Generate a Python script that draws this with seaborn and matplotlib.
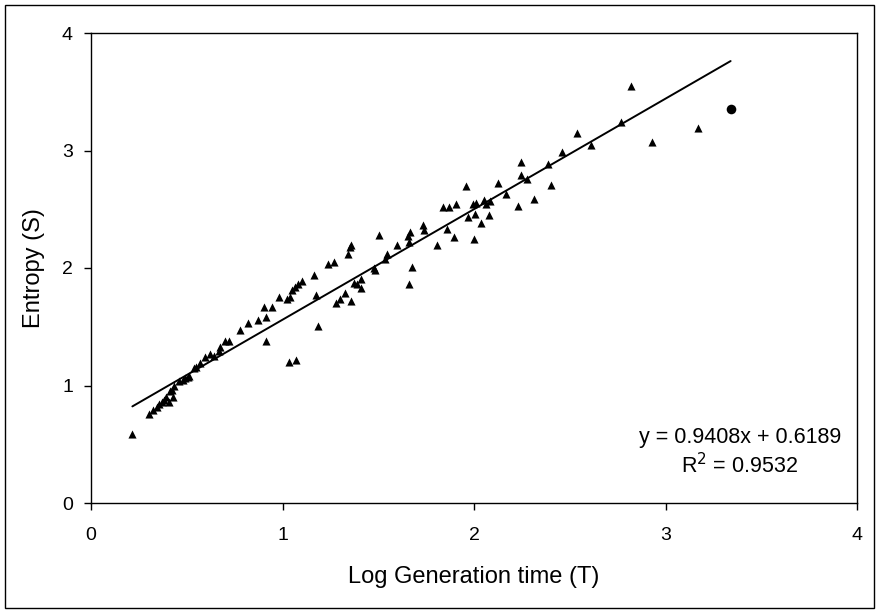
import matplotlib
matplotlib.use("Agg")
import matplotlib.pyplot as plt
import seaborn as sns
import pandas as pd
import numpy as np
from matplotlib.patches import Rectangle

# values
log_gen_time = [0.216, 0.305, 0.326, 0.344, 0.353, 0.37, 0.382, 0.393, 0.405, 0.414,
                0.428, 0.422, 0.435, 0.462, 0.48, 0.492, 0.504, 0.511, 0.536, 0.55,
                0.567, 0.597, 0.623, 0.644, 0.667, 0.675, 0.70, 0.719, 0.777, 0.819,
                0.871, 0.913, 0.913, 0.902, 0.944, 0.981, 1.021, 1.038, 1.033, 1.068,
                1.05, 1.063, 1.08, 1.103, 1.164, 1.174, 1.185, 1.237, 1.269, 1.277,
                1.30, 1.326, 1.356, 1.342, 1.352, 1.36, 1.373, 1.391, 1.408, 1.412,
                1.478, 1.482, 1.504, 1.534, 1.545, 1.597, 1.656, 1.667, 1.661, 1.674,
                1.661, 1.736, 1.74, 1.806, 1.836, 1.871, 1.859, 1.893, 1.906, 1.958,
                1.97, 1.993, 2.01, 2.005, 2.0, 2.037, 2.051, 2.063, 2.08, 2.086,
                2.124, 2.168, 2.232, 2.243, 2.246, 2.277, 2.312, 2.389, 2.40, 2.462,
                2.536, 2.609, 2.766, 2.822, 2.927, 3.168]
entropy = [0.59, 0.76, 0.79, 0.82, 0.84, 0.86, 0.88, 0.90, 0.86, 0.95,
           0.90, 0.96, 1.0, 1.04, 1.05, 1.06, 1.07, 1.08, 1.15, 1.155,
           1.19, 1.24, 1.27, 1.25, 1.29, 1.325, 1.38, 1.38, 1.47, 1.53,
           1.56, 1.38, 1.585, 1.665, 1.665, 1.75, 1.74, 1.755, 1.20, 1.22,
           1.81, 1.84, 1.865, 1.89, 1.94, 1.77, 1.506, 2.034, 2.05, 1.705,
           1.74, 1.79, 1.72, 2.115, 2.175, 2.20, 1.875, 1.86, 1.91, 1.83,
           2.0, 1.98, 2.28, 2.08, 2.12, 2.195, 2.27, 2.31, 2.225, 2.005,
           1.86, 2.365, 2.32, 2.195, 2.515, 2.515, 2.33, 2.26, 2.545, 2.70,
           2.43, 2.545, 2.555, 2.46, 2.25, 2.38, 2.58, 2.545, 2.45, 2.57,
           2.72, 2.63, 2.53, 2.90, 2.79, 2.755, 2.59, 2.885, 2.71, 2.99,
           3.15, 3.045, 3.245, 3.545, 3.075, 3.19]

# the single round marker at the far right
extra_x = [3.34]
extra_y = [3.35]

slope = 0.9408
intercept = 0.6189
r_squared = 0.9532

df = pd.DataFrame({"T": log_gen_time, "S": entropy})
df_extra = pd.DataFrame({"T": extra_x, "S": extra_y})

x_all = log_gen_time + extra_x
fit_x = [min(x_all), max(x_all)]
df_fit = pd.DataFrame({"T": fit_x, "S": [slope * v + intercept for v in fit_x]})

sns.set_style("white")
plt.rcParams['font.family'] = ['Liberation Sans', 'DejaVu Sans']
plt.rcParams['font.size'] = 14
plt.rcParams['text.color'] = 'black'
plt.rcParams['axes.labelcolor'] = 'black'
plt.rcParams['xtick.color'] = 'black'
plt.rcParams['ytick.color'] = 'black'

fig = plt.figure(figsize=(8.81, 6.13), dpi=100)
ax = fig.add_axes([91 / 881, 1 - 503 / 613, (857 - 91) / 881, (503 - 33) / 613])

sns.lineplot(data=df_fit, x="T", y="S", color="black", linewidth=1.4, ax=ax)
sns.scatterplot(data=df, x="T", y="S", marker="^", s=34, color="black",
                edgecolor="black", linewidth=0, ax=ax, zorder=3)
sns.scatterplot(data=df_extra, x="T", y="S", marker="o", s=48, color="black",
                edgecolor="black", linewidth=0, ax=ax, zorder=3)

ax.set_xlim(0, 4)
ax.set_ylim(0, 4)
ax.set_xticks([0, 1, 2, 3, 4])
ax.set_yticks([0, 1, 2, 3, 4])
ax.tick_params(direction="out", length=5, width=1, colors="black",
               labelsize=14, bottom=True, left=True)
ax.tick_params(axis="x", pad=12)
ax.tick_params(axis="y", pad=8)
for sp in ax.spines.values():
    sp.set_color("black")
    sp.set_linewidth(1)

ax.set_xlabel("Log Generation time (T)", fontsize=17, labelpad=16, color="black")
ax.set_ylabel("Entropy (S)", fontsize=17, labelpad=12, color="black")

ax.text(0.979, 0.140, f"y = {slope}x + {intercept}", transform=ax.transAxes,
        ha="right", va="center", fontsize=15.5, color="black")
ax.text(0.923, 0.079, f"R$^2$ = {r_squared}", transform=ax.transAxes,
        ha="right", va="center", fontsize=15.5, color="black")

# outer chart frame
fig.add_artist(Rectangle((5 / 881, 1 - 608 / 613), (874 - 5) / 881, (608 - 5) / 613,
                         transform=fig.transFigure, fill=False,
                         edgecolor="black", linewidth=1))

fig.savefig("out.png", dpi=100)
